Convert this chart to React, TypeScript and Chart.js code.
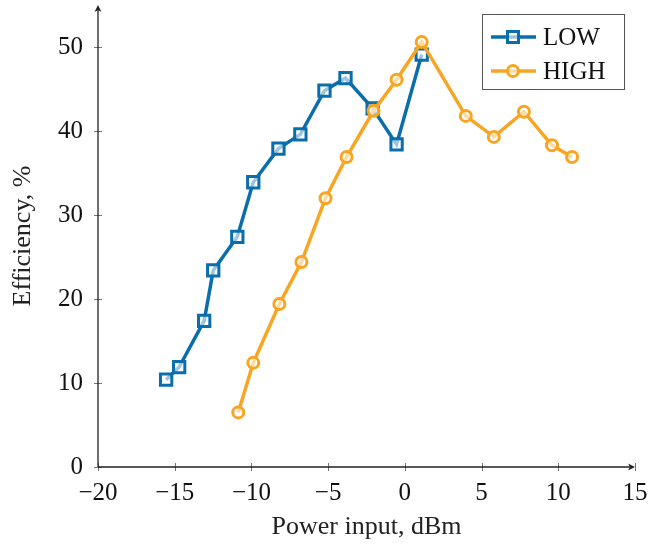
import React, { useEffect, useRef } from "react";
import { Chart, registerables } from "chart.js";

Chart.register(...registerables);

const lowX = [-15.56, -14.71, -13.08, -12.49, -10.92, -9.88, -8.24, -6.81, -5.24, -3.87, -2.1, -0.54, 1.1];
const lowY = [10.4, 11.9, 17.4, 23.4, 27.4, 33.9, 37.9, 39.6, 44.8, 46.3, 42.7, 38.4, 49.1];
const highX = [-10.86, -9.88, -8.18, -6.74, -5.17, -3.8, -2.04, -0.54, 1.1, 3.97, 5.8, 7.76, 9.59, 10.9];
const highY = [6.5, 12.4, 19.4, 24.4, 32.0, 36.9, 42.4, 46.1, 50.6, 41.8, 39.3, 42.3, 38.3, 36.9];
const xTicks = [-20, -15, -10, -5, 0, 5, 10, 15];
const yTicks = [0, 10, 20, 30, 40, 50];
const seriesNames = ["LOW", "HIGH"];
const seriesColors = ["#0a6eac", "#f8a521"];

const FONT = "'Liberation Serif', 'DejaVu Serif', serif";

const fmt = (v: number) => (v < 0 ? "\u2212" + Math.abs(v) : String(v));

const axesPlugin = {
  id: "pgfAxes",
  beforeDatasetsDraw(chart: any) {
    const { ctx, chartArea, scales } = chart;
    const xs = scales.x;
    const ys = scales.y;
    const x0 = chartArea.left;
    const y0 = chartArea.bottom;
    ctx.save();
    ctx.strokeStyle = "#777";
    ctx.lineWidth = 1;
    xTicks.forEach((t) => {
      const px = Math.round(xs.getPixelForValue(t)) + 0.5;
      ctx.beginPath();
      ctx.moveTo(px, y0 - 4);
      ctx.lineTo(px, y0 + 4);
      ctx.stroke();
    });
    yTicks.forEach((t) => {
      const py = Math.round(ys.getPixelForValue(t)) + 0.5;
      ctx.beginPath();
      ctx.moveTo(x0 - 4, py);
      ctx.lineTo(x0 + 4, py);
      ctx.stroke();
    });
    ctx.strokeStyle = "#222";
    ctx.fillStyle = "#222";
    ctx.lineWidth = 1.3;
    ctx.beginPath();
    ctx.moveTo(x0, y0);
    ctx.lineTo(chartArea.right - 2, y0);
    ctx.moveTo(x0, y0);
    ctx.lineTo(x0, chartArea.top + 2);
    ctx.stroke();
    const r = chartArea.right;
    ctx.beginPath();
    ctx.moveTo(r, y0);
    ctx.lineTo(r - 7, y0 - 3.5);
    ctx.lineTo(r - 5, y0);
    ctx.lineTo(r - 7, y0 + 3.5);
    ctx.closePath();
    ctx.fill();
    const t = chartArea.top;
    ctx.beginPath();
    ctx.moveTo(x0, t);
    ctx.lineTo(x0 - 3.5, t + 7);
    ctx.lineTo(x0, t + 5);
    ctx.lineTo(x0 + 3.5, t + 7);
    ctx.closePath();
    ctx.fill();
    ctx.restore();
  },
};

const legendPlugin = {
  id: "pgfLegend",
  afterDraw(chart: any) {
    const { ctx } = chart;
    const bx = 482, by = 14, bw = 142, bh = 75;
    ctx.save();
    ctx.fillStyle = "#fff";
    ctx.fillRect(bx, by, bw, bh);
    ctx.strokeStyle = "#555";
    ctx.lineWidth = 1;
    ctx.strokeRect(bx + 0.5, by + 0.5, bw, bh);
    const rows = [37, 71];
    seriesNames.forEach((name, i) => {
      const y = rows[i];
      const c = seriesColors[i];
      ctx.strokeStyle = c;
      ctx.lineWidth = 3.5;
      ctx.beginPath();
      ctx.moveTo(491, y);
      ctx.lineTo(536, y);
      ctx.stroke();
      ctx.lineWidth = 3;
      ctx.fillStyle = "rgba(255,255,255,0.6)";
      if (i === 0) {
        ctx.beginPath();
        ctx.rect(507.5, y - 5.5, 11, 11);
        ctx.fill();
        ctx.stroke();
      } else {
        ctx.beginPath();
        ctx.arc(513, y, 5.5, 0, Math.PI * 2);
        ctx.fill();
        ctx.stroke();
      }
      ctx.fillStyle = "#111";
      ctx.font = `25px ${FONT}`;
      ctx.textBaseline = "middle";
      ctx.textAlign = "left";
      ctx.fillText(name, 543, y + 1);
    });
    ctx.restore();
  },
};

export default function App() {
  const ref = useRef<HTMLCanvasElement | null>(null);
  useEffect(() => {
    if (!ref.current) return;
    const mk = (xa: number[], ya: number[]) => xa.map((x, i) => ({ x, y: ya[i] }));
    const chart = new Chart(ref.current, {
      type: "line",
      data: {
        datasets: [
          {
            label: seriesNames[0],
            data: mk(lowX, lowY),
            order: 2,
            borderColor: seriesColors[0],
            backgroundColor: "rgba(255,255,255,0.6)",
            borderWidth: 3.5,
            pointStyle: "rect",
            pointRadius: 8,
            pointBorderWidth: 3,
            pointBackgroundColor: "rgba(255,255,255,0.6)",
            pointBorderColor: seriesColors[0],
            tension: 0,
            clip: false,
          },
          {
            label: seriesNames[1],
            data: mk(highX, highY),
            order: 1,
            borderColor: seriesColors[1],
            backgroundColor: "rgba(255,255,255,0.6)",
            borderWidth: 3.5,
            pointStyle: "circle",
            pointRadius: 5.5,
            pointBorderWidth: 3,
            pointBackgroundColor: "rgba(255,255,255,0.6)",
            pointBorderColor: seriesColors[1],
            tension: 0,
            clip: false,
          },
        ],
      },
      options: {
        responsive: false,
        animation: false,
        layout: { autoPadding: false, padding: { top: 5, right: 26, left: 0, bottom: 0 } },
        plugins: { legend: { display: false }, tooltip: { enabled: false } },
        scales: {
          x: {
            type: "linear",
            min: -20,
            max: 15,
            grid: { display: false },
            border: { display: false },
            afterFit: (s: any) => {
              s.height = 78;
              s.paddingLeft = 0;
              s.paddingRight = 0;
            },
            afterBuildTicks: (s: any) => {
              s.ticks = xTicks.map((v) => ({ value: v }));
            },
            ticks: {
              padding: 3,
              color: "#111",
              font: { family: FONT, size: 25 },
              callback: (v: any) => fmt(Number(v)),
              maxRotation: 0,
            },
            title: {
              display: true,
              text: "Power input, dBm",
              color: "#222",
              font: { family: FONT, size: 26 },
              padding: { top: 0, bottom: 2 },
            },
          },
          y: {
            type: "linear",
            min: 0,
            max: 55,
            grid: { display: false },
            border: { display: false },
            afterFit: (s: any) => {
              s.width = 98;
              s.paddingTop = 0;
              s.paddingBottom = 0;
            },
            afterBuildTicks: (s: any) => {
              s.ticks = yTicks.map((v) => ({ value: v }));
            },
            ticks: {
              padding: 7,
              color: "#111",
              font: { family: FONT, size: 25 },
              callback: (v: any) => fmt(Number(v)),
            },
            title: {
              display: true,
              text: "Efficiency, %",
              color: "#222",
              font: { family: FONT, size: 26 },
              padding: { top: 8, bottom: 0 },
            },
          },
        },
      },
      plugins: [axesPlugin, legendPlugin],
    });
    return () => chart.destroy();
  }, []);
  return (
    <div style={{ position: "fixed", left: 0, top: 0, width: 661, height: 545, background: "#fff" }}>
      <canvas ref={ref} width={661} height={545} style={{ display: "block" }} />
    </div>
  );
}
